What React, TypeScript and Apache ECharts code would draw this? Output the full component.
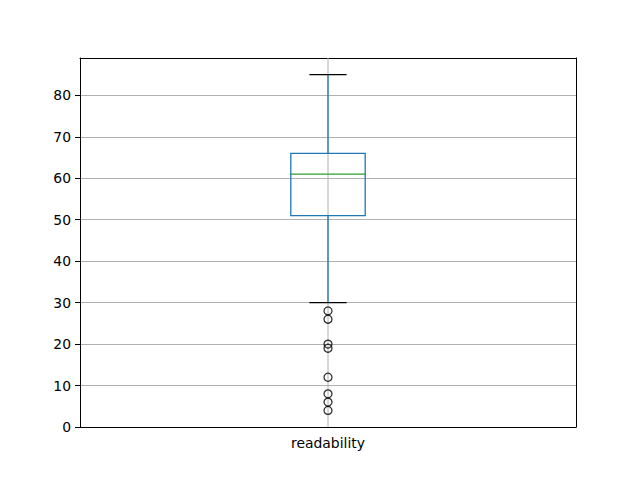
import React, { useEffect, useRef } from "react";
import * as echarts from "echarts";

const categories = ["readability"];
// [low whisker, Q1, median, Q3, high whisker]
const boxStats = [[30, 51, 61, 66, 85]];
const outliers = [28, 26, 20, 19, 12, 8, 6, 4];
const yTicks = [0, 10, 20, 30, 40, 50, 60, 70, 80];
const yMin = 0;
const yMax = 89;

export default function App() {
  const ref = useRef<HTMLDivElement>(null);
  useEffect(() => {
    document.body.style.margin = "0";
    const chart = echarts.init(ref.current!, null, { renderer: "svg" });
    const font = "DejaVu Sans";
    const option: any = {
      animation: false,
      backgroundColor: "#ffffff",
      grid: { left: 80, right: 64, top: 58, bottom: 53 },
      xAxis: [
        {
          type: "category",
          data: categories,
          boundaryGap: true,
          axisLine: { onZero: false, lineStyle: { color: "#000", width: 1 } },
          axisTick: { alignWithLabel: true, length: 5, lineStyle: { color: "#000", width: 1 } },
          axisLabel: { color: "#000", fontFamily: font, fontSize: 13.9, margin: 9 },
          splitLine: { show: false },
        },
        {
          type: "category",
          data: categories,
          position: "top",
          axisLine: { show: true, onZero: false, lineStyle: { color: "#000", width: 1 } },
          axisTick: { show: false },
          axisLabel: { show: false },
          splitLine: { show: false },
        },
      ],
      yAxis: [
        {
          type: "value",
          min: yMin,
          max: yMax,
          interval: 10,
          axisLine: { show: true, onZero: false, lineStyle: { color: "#000", width: 1 } },
          axisTick: { show: true, length: 5, customValues: yTicks, lineStyle: { color: "#000", width: 1 } },
          axisLabel: { color: "#000", fontFamily: font, fontSize: 13.9, margin: 9, customValues: yTicks },
          splitLine: { show: true, lineStyle: { color: "#b0b0b0", width: 1 } },
        },
        {
          type: "value",
          min: yMin,
          max: yMax,
          position: "right",
          axisLine: { show: true, onZero: false, lineStyle: { color: "#000", width: 1 } },
          axisTick: { show: false },
          axisLabel: { show: false },
          splitLine: { show: false },
        },
      ],
      series: [
        {
          type: "custom",
          xAxisIndex: 0,
          yAxisIndex: 0,
          data: boxStats.map((s, i) => [i, ...s]),
          renderItem: (params: any, api: any) => {
            const x = api.value(0);
            const low = api.value(1);
            const q1 = api.value(2);
            const med = api.value(3);
            const q3 = api.value(4);
            const high = api.value(5);
            const band = api.size([1, 0])[0];
            const boxW = band * 0.15;
            const capW = boxW * 0.5;
            const pLow = api.coord([x, low]);
            const pQ1 = api.coord([x, q1]);
            const pMed = api.coord([x, med]);
            const pQ3 = api.coord([x, q3]);
            const pHigh = api.coord([x, high]);
            const pBottom = api.coord([x, yMin]);
            const pTop = api.coord([x, yMax]);
            const cx = pMed[0];
            const blue = "#1f77b4";
            const lw = 1.3;
            return {
              type: "group",
              children: [
                {
                  type: "line",
                  shape: { x1: cx, y1: pBottom[1], x2: cx, y2: pTop[1] },
                  style: { stroke: "#b0b0b0", lineWidth: 1 },
                },
                {
                  type: "line",
                  shape: { x1: cx, y1: pQ1[1], x2: cx, y2: pLow[1] },
                  style: { stroke: blue, lineWidth: lw },
                },
                {
                  type: "line",
                  shape: { x1: cx, y1: pQ3[1], x2: cx, y2: pHigh[1] },
                  style: { stroke: blue, lineWidth: lw },
                },
                {
                  type: "rect",
                  shape: { x: cx - boxW / 2, y: pQ3[1], width: boxW, height: pQ1[1] - pQ3[1] },
                  style: { stroke: blue, fill: "none", lineWidth: lw },
                },
                {
                  type: "line",
                  shape: { x1: cx - boxW / 2, y1: pMed[1], x2: cx + boxW / 2, y2: pMed[1] },
                  style: { stroke: "#2ca02c", lineWidth: lw },
                },
                {
                  type: "line",
                  shape: { x1: cx - capW / 2, y1: pLow[1], x2: cx + capW / 2, y2: pLow[1] },
                  style: { stroke: "#000", lineWidth: lw },
                },
                {
                  type: "line",
                  shape: { x1: cx - capW / 2, y1: pHigh[1], x2: cx + capW / 2, y2: pHigh[1] },
                  style: { stroke: "#000", lineWidth: lw },
                },
              ],
            };
          },
        },
        {
          type: "scatter",
          xAxisIndex: 0,
          yAxisIndex: 0,
          symbol: "circle",
          symbolSize: 8,
          itemStyle: { color: "rgba(0,0,0,0)", borderColor: "#000", borderWidth: 1.3 },
          data: outliers.map((v) => [0, v]),
        },
      ],
    };
    chart.setOption(option);
    return () => chart.dispose();
  }, []);
  return <div ref={ref} style={{ width: 640, height: 480 }} />;
}
